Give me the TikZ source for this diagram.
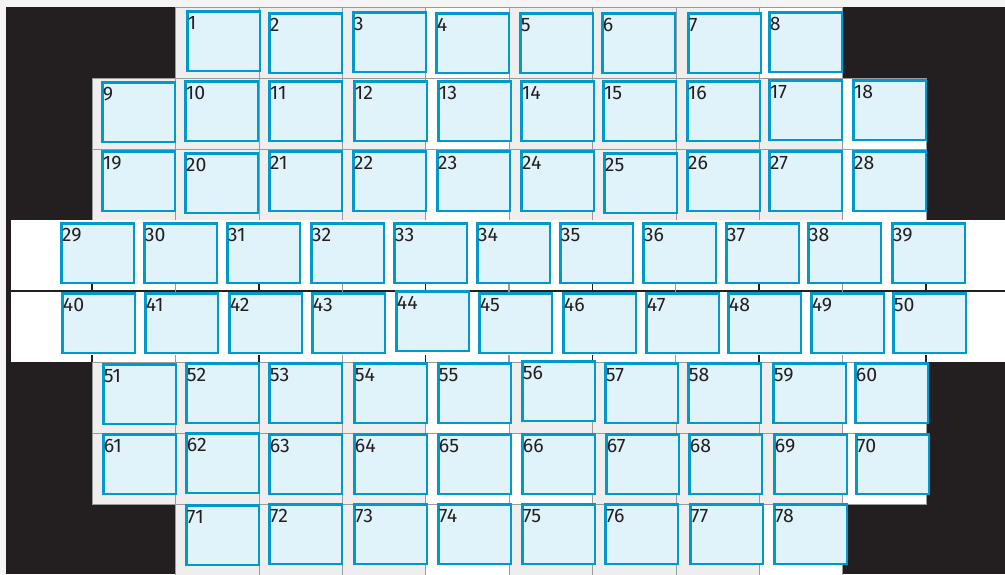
\documentclass[tikz,border=0pt]{standalone}
\usepackage{fontspec}
\setmainfont{Fira Sans}
\usetikzlibrary{positioning}

\definecolor{waferdark}{HTML}{231F20}
\definecolor{framegray}{HTML}{F4F4F4}
\definecolor{cellgray}{HTML}{EEEEEE}
\definecolor{scribe}{HTML}{9A9A9A}
\definecolor{dieblue}{HTML}{0099CC}
\definecolor{diefill}{HTML}{E0F3FA}

\begin{document}
\begin{tikzpicture}[
    x=1pt, y=-1pt,
    die/.style={draw=dieblue, fill=diefill, line width=2.5pt, anchor=north west,
        minimum width=72.5pt, minimum height=59.5pt, inner sep=0pt, outer sep=0pt},
    dielabel/.style={anchor=base west, inner sep=0pt, text=waferdark,
        font=\fontsize{19.5}{20}\selectfont},
    cell/.style={draw=scribe, line width=0.5pt},
    darktick/.style={draw=waferdark, line width=1.6pt},
    graytick/.style={draw=scribe, line width=1.2pt}
]
% ---- frame and wafer background ----
\fill[framegray] (0,0) rectangle (1005,574);
\useasboundingbox (0,0) rectangle (1005,574);
\fill[waferdark] (6,7) rectangle (1005,574);

% ---- reticle cells (rows 1-3 and 6-8) ----
\foreach \r/\cfrom/\cto in {0/2/9, 1/1/10, 2/1/10, 5/1/10, 6/1/10, 7/2/9} {
    \foreach \c in {\cfrom,...,\cto} {
        \pgfmathtruncatemacro\iswhite{or(or(\c==5,\c==\cto),and(\r==6,\c==6))}
        \ifnum\iswhite=1 \def\cellcol{white}\else\def\cellcol{cellgray}\fi
        \path[cell, fill=\cellcol] (8.6+83.4*\c, 7.2+70.95*\r) rectangle ++(83.4,70.95);
    }
}

% ---- full-width band (rows 4-5) ----
\fill[white] (11,220.05) rectangle (1005,361.95);
\draw[darktick] (6,291) -- (1005,291);
\foreach \k in {1,...,11} {
    \pgfmathtruncatemacro\isodd{mod(\k,2)}
    \ifnum\isodd=1 \def\tickstyle{darktick}\else\def\tickstyle{graytick}\fi
    \draw[style=\tickstyle] (8.6+83.4*\k,283) -- (8.6+83.4*\k,299);
    \draw[style=\tickstyle] (8.6+83.4*\k,355) -- (8.6+83.4*\k,361.95);
}

% ---- dies ----
\foreach \n/\x/\y in {
    1/186/10, 2/268/12, 3/352/11, 4/435/12, 5/519/12, 6/601/12, 7/687/12, 8/768/11,
    9/101/81, 10/184/80, 11/268/80, 12/353/80, 13/437/80, 14/520/80, 15/602/80,
    16/686/80, 17/768/79, 18/852/79,
    19/101/150, 20/184/152, 21/268/150, 22/352/150, 23/436/150, 24/520/150,
    25/603/152, 26/686/150, 27/768/150, 28/852/150,
    29/60/222, 30/143/222, 31/226/222, 32/310/222, 33/393/222, 34/476/222,
    35/559/222, 36/642/222, 37/725/222, 38/807/222, 39/891/222,
    40/61/292, 41/144/292, 42/228/292, 43/311/292, 44/395/290, 45/478/292,
    46/562/292, 47/645/292, 48/727/292, 49/810/292, 50/892/292,
    51/102/363, 52/185/362, 53/268/362, 54/353/362, 55/437/362, 56/521/360,
    57/604/362, 58/687/362, 59/772/362, 60/854/362,
    61/102/433, 62/185/432, 63/268/433, 64/353/433, 65/437/433, 66/521/433,
    67/605/433, 68/688/433, 69/773/433, 70/855/433,
    71/185/504, 72/268/503, 73/353/503, 74/437/503, 75/521/503, 76/604/503,
    77/689/503, 78/773/503} {
    \node[die] (d\n) at (\x+1.25,\y+1.25) {};
    \node[dielabel] (l\n) at ([xshift=0.5pt, yshift=-18.3pt]d\n.north west) {\n};
}
\end{tikzpicture}
\end{document}
